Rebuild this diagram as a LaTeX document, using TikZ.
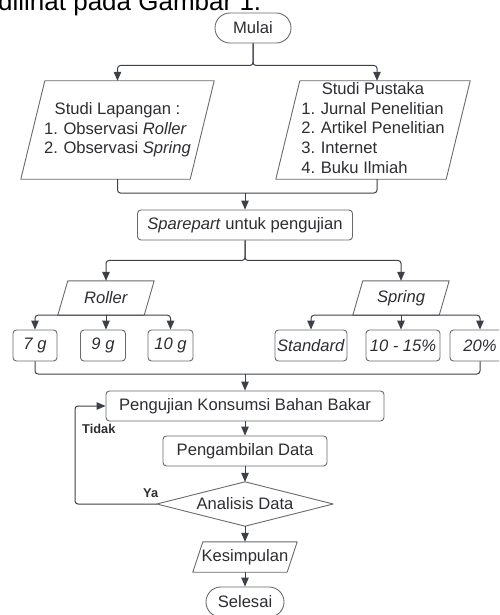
\documentclass[tikz,border=0pt]{standalone}
\usepackage{fontspec}
\setmainfont{Liberation Sans}
\usetikzlibrary{arrows.meta}
\definecolor{ln}{RGB}{60,64,72}
\definecolor{bx}{RGB}{105,105,110}
\definecolor{tx}{RGB}{45,45,50}
\begin{document}
\begin{tikzpicture}[x=1pt,y=-1pt,
 every node/.style={text=tx, font=\fontsize{16.6}{20}\selectfont, inner sep=0pt},
 box/.style={draw=bx, line width=0.9pt, rounded corners=3.5pt, minimum width=#1, minimum height=30pt},
 term/.style={draw=bx, line width=0.9pt, rounded corners=14.9pt, minimum width=#1, minimum height=30pt},
 iobox/.style 2 args={minimum width=#1, minimum height=#2},
 shapeline/.style={draw=bx, line width=0.9pt, line join=round},
 conn/.style={draw=ln, line width=1pt, rounded corners=3pt},
 arr/.style={conn, -{Triangle[width=7.5pt,length=9pt]}},
 lbl/.style={font=\fontsize{12.8}{14}\selectfont\bfseries}]
\useasboundingbox (0,0) rectangle (499,615);
\clip (0,0) rectangle (499,615);

\node[font=\fontsize{26}{30}\selectfont, anchor=base west, text=black] (cap) at (-2,11) {dilihat pada Gambar 1.};

\node[term=76pt] (start) at (253,28) {Mulai};
\node[iobox={193pt}{98pt}] (sl) at (117.5,130) {\begin{tabular}{@{}l@{\,\,}l@{}}\multicolumn{2}{c}{Studi Lapangan :}\\1.&Observasi \textit{Roller}\\2.&Observasi \textit{Spring}\end{tabular}};
\node[iobox={194pt}{98pt}, font=\fontsize{16.6}{19.6}\selectfont] (sp) at (373,130) {\begin{tabular}{@{}l@{\,\,}l@{}}\multicolumn{2}{c}{Studi Pustaka}\\1.&Jurnal Penelitian\\2.&Artikel Penelitian\\3.&Internet\\4.&Buku Ilmiah\end{tabular}};
\node[box=215pt] (spare) at (245,225) {\textit{Sparepart} untuk pengujian};
\node[iobox={96pt}{34pt}] (roller) at (106,298) {\textit{Roller}};
\node[iobox={96pt}{34pt}] (spring) at (401,298) {\textit{Spring}};
\node[box=44pt, minimum height=31pt] (g7) at (35,345.5) {\textit{7 g}};
\node[box=45pt, minimum height=31pt] (g9) at (103,345.5) {\textit{9 g}};
\node[box=45pt, minimum height=31pt] (g10) at (170.5,345.5) {\textit{10 g}};
\node[box=72pt, minimum height=31pt] (std) at (311,345.5) {\textit{Standard}};
\node[box=74pt, minimum height=31pt] (p15) at (403,345.5) {\textit{10 - 15\%}};
\node[box=60pt, minimum height=31pt] (p20) at (480,345.5) {\textit{20\%}};
\node[box=278pt] (test) at (245,406) {Pengujian Konsumsi Bahan Bakar};
\node[box=164pt] (data) at (245,451) {Pengambilan Data};
\node[minimum width=176pt, minimum height=44pt] (an) at (245,504) {Analisis Data};
\node[iobox={104pt}{30pt}] (kes) at (245,557) {Kesimpulan};
\node[term=78pt] (end) at (245,602) {Selesai};

% parallelograms and diamond
\draw[shapeline] ([xshift=24pt]sl.north west) -- (sl.north east) -- ([xshift=-24pt]sl.south east) -- (sl.south west) -- cycle;
\draw[shapeline] ([xshift=24pt]sp.north west) -- (sp.north east) -- ([xshift=-24pt]sp.south east) -- (sp.south west) -- cycle;
\draw[shapeline] ([xshift=10pt]roller.north west) -- (roller.north east) -- ([xshift=-10pt]roller.south east) -- (roller.south west) -- cycle;
\draw[shapeline] ([xshift=10pt]spring.north west) -- (spring.north east) -- ([xshift=-10pt]spring.south east) -- (spring.south west) -- cycle;
\draw[shapeline] ([xshift=10pt]kes.north west) -- (kes.north east) -- ([xshift=-10pt]kes.south east) -- (kes.south west) -- cycle;
\draw[shapeline] (an.north) -- (an.east) -- (an.south) -- (an.west) -- cycle;

% connectors
\draw[arr] (start.south) -- ++(0,22) -| (sl.north);
\draw[arr] (start.south) -- ++(0,22) -| ([xshift=4pt]sp.north);
\coordinate (j2) at (245,193);
\draw[conn] (sl.south) |- (j2);
\draw[conn] ([xshift=4pt]sp.south) |- (j2);
\draw[arr] (j2) -- (spare.north);
\draw[arr] (spare.south) -- ++(0,20) -| (roller.north);
\draw[arr] (spare.south) -- ++(0,20) -| (spring.north);
\draw[arr] (roller.south) -| (g7.north);
\draw[arr] (roller.south) -- (roller.south |- g9.north);
\draw[arr] (roller.south) -| (g10.north);
\draw[arr] (spring.south) -| (std.north);
\draw[arr] (spring.south) -- (spring.south |- p15.north);
\draw[arr] (spring.south) -| (p20.north);
\coordinate (j3) at (245,374);
\draw[conn] (g7.south) |- (j3);
\draw[conn] (p20.south) |- (j3);
\draw[arr] (j3) -- (test.north);
\draw[arr] (test) -- (data);
\draw[arr] (data) -- (an.north);
\draw[arr] (an.south) -- (kes);
\draw[arr] (kes) -- (end);
\coordinate (lp) at (75,504);
\draw[arr] (an.west) -- (lp) |- (test.west);

\node[lbl, anchor=west] (tidak) at (82,429) {Tidak};
\node[lbl, anchor=west] (ya) at (143,493) {Ya};
\end{tikzpicture}
\end{document}
